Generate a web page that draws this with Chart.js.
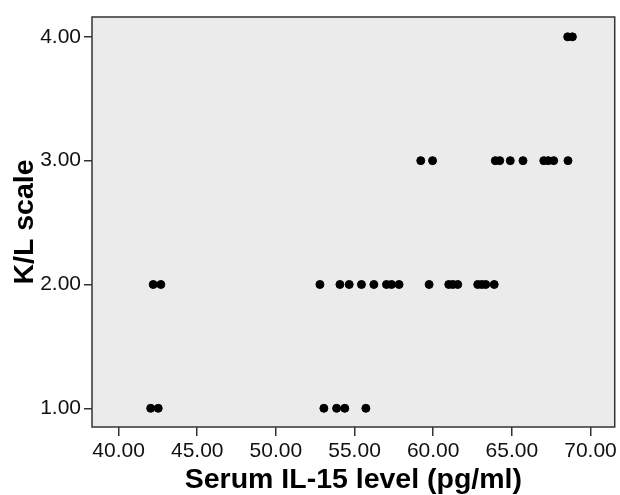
<!DOCTYPE html>
<html>
<head>
<meta charset="utf-8">
<script src="https://cdn.jsdelivr.net/npm/chart.js@4/dist/chart.umd.min.js"></script>
<style>
  html, body { margin: 0; padding: 0; background: #fff; }
  #wrap { width: 620px; height: 495px; }
</style>
</head>
<body>
<div id="wrap"><canvas id="chart" width="620" height="495"></canvas></div>
<script>
// Serum IL-15 (pg/ml) per K/L grade
var grade1 = [42.04, 42.52, 53.05, 53.86, 54.38, 55.72];
var grade2 = [42.20, 42.69, 52.80, 54.07, 54.66, 55.44, 56.23, 57.03, 57.35, 57.83,
              59.74, 60.99, 61.25, 61.56, 62.83, 63.09, 63.34, 63.88];
var grade3 = [59.21, 59.96, 63.95, 64.23, 64.90, 65.71, 67.03, 67.31, 67.66, 68.57];
var grade4 = [68.55, 68.85];

var xTicks = [40, 45, 50, 55, 60, 65, 70];
var yTicks = [1, 2, 3, 4];

function toPoints(xs, y) {
    return xs.map(function (x) { return { x: x, y: y }; });
}

var points = []
    .concat(toPoints(grade1, 1))
    .concat(toPoints(grade2, 2))
    .concat(toPoints(grade3, 3))
    .concat(toPoints(grade4, 4));

// fondo gris y marco del área de trazado
var plotFrame = {
    id: "plotFrame",
    beforeDatasetsDraw: function (chart) {
        var a = chart.chartArea, ctx = chart.ctx;
        ctx.save();
        ctx.fillStyle = "#ebebeb";
        ctx.fillRect(a.left, a.top, a.right - a.left, a.bottom - a.top);
        ctx.restore();
    },
    afterDatasetsDraw: function (chart) {
        var a = chart.chartArea, ctx = chart.ctx;
        ctx.save();
        ctx.strokeStyle = "#333";
        ctx.lineWidth = 1.5;
        ctx.strokeRect(a.left, a.top, a.right - a.left, a.bottom - a.top);
        ctx.restore();
    }
};

Chart.defaults.font.family = "'Liberation Sans', Arial, sans-serif";
Chart.defaults.color = "#111";

new Chart(document.getElementById("chart"), {
    type: "scatter",
    data: {
        datasets: [{
            data: points,
            backgroundColor: "#000",
            borderColor: "#000",
            pointRadius: 4,
            pointHoverRadius: 4
        }]
    },
    plugins: [plotFrame],
    options: {
        responsive: false,
        animation: false,
        layout: { padding: { top: 17, right: 5, left: 0, bottom: 0 } },
        plugins: { legend: { display: false }, tooltip: { enabled: false } },
        scales: {
            x: {
                type: "linear",
                min: 38.31,
                max: 71.54,
                afterBuildTicks: function (s) {
                    s.ticks = xTicks.map(function (v) { return { value: v }; });
                },
                afterFit: function (s) { s.height = 68; },
                grid: { drawOnChartArea: false, drawTicks: true, tickLength: 9, color: "#333", lineWidth: 1.5 },
                border: { display: false },
                ticks: {
                    font: { size: 21 },
                    padding: 3,
                    maxRotation: 0,
                    callback: function (v) { return v.toFixed(2); }
                },
                title: {
                    display: true,
                    text: "Serum IL-15 level (pg/ml)",
                    font: { size: 28.5, weight: "bold", lineHeight: 1 },
                    padding: { top: 0, bottom: 1 },
                    color: "#000"
                }
            },
            y: {
                type: "linear",
                min: 0.849,
                max: 4.16,
                afterBuildTicks: function (s) {
                    s.ticks = yTicks.map(function (v) { return { value: v }; });
                },
                afterFit: function (s) { s.width = 92; },
                grid: { drawOnChartArea: false, drawTicks: true, tickLength: 8, color: "#333", lineWidth: 1.5 },
                border: { display: false },
                ticks: {
                    font: { size: 21 },
                    padding: 3,
                    callback: function (v) { return v.toFixed(2); }
                },
                title: {
                    display: true,
                    text: "K/L scale",
                    font: { size: 28.5, weight: "bold", lineHeight: 1 },
                    padding: { top: 11, bottom: 0 },
                    color: "#000"
                }
            }
        }
    }
});
</script>
</body>
</html>
